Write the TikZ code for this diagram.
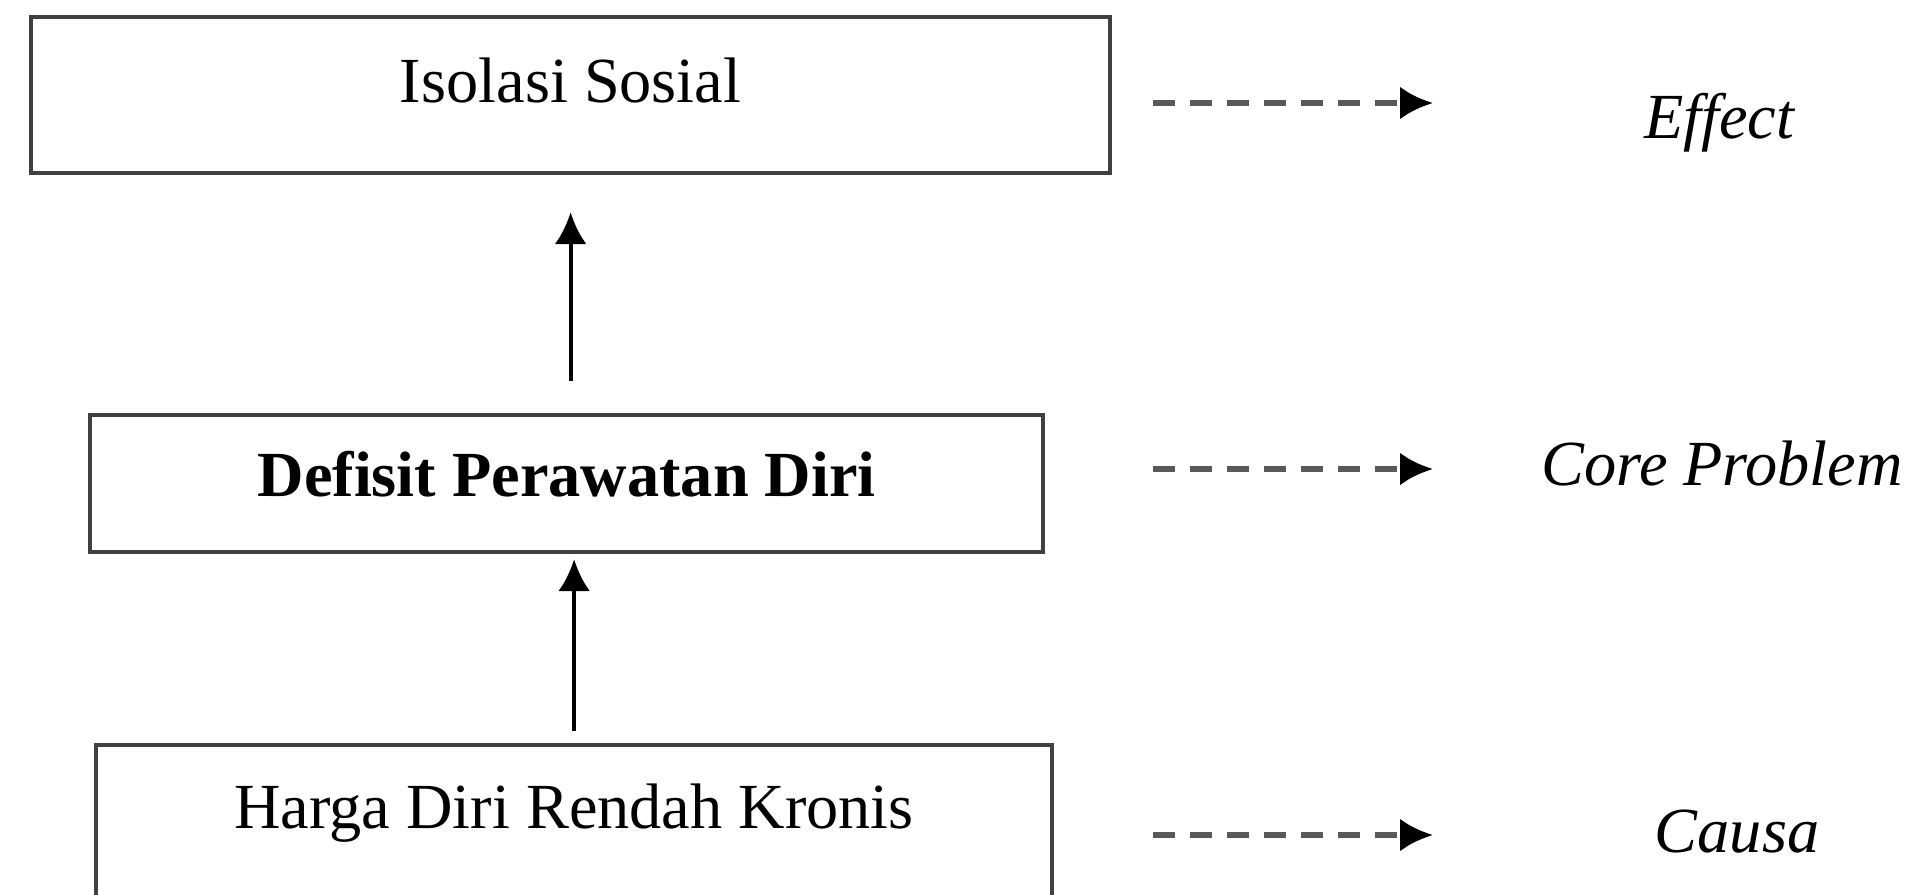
\documentclass[tikz,border=0pt]{standalone}
\usepackage{fontspec}
\setmainfont{Liberation Serif}
\usetikzlibrary{arrows.meta}
\begin{document}
\begin{tikzpicture}[->, >={Latex[length=3.2mm,width=3.2mm]}, line width=1.2pt,
		box/.style={draw=black!75, anchor=north west, inner sep=0pt, font=\fontsize{18.3}{22}\selectfont},
		lbl/.style={anchor=base, inner sep=0pt, font=\fontsize{18.3}{22}\selectfont\itshape},
		dsh/.style={draw=black!65, line width=1.7pt, dash pattern=on 2.2mm off 1.5mm, >={Latex[length=3.3mm,width=3.3mm,color=black]}}]
			\clip[use as bounding box] (0,0) rectangle (19.17,-8.94);
			\node (iso) [box, minimum width=10.79cm, text height=0.85cm, text depth=0.71cm] at (0.29,-0.15) {Isolasi Sosial};
			\node (dpd) [box, minimum width=9.53cm, text height=0.81cm, text depth=0.56cm, font=\fontsize{18.3}{22}\selectfont\bfseries] at (0.88,-4.13) {Defisit Perawatan Diri};
			\node (hdr) [box, minimum width=9.56cm, text height=0.83cm, text depth=1.2cm] at (0.94,-7.43) {Harga Diri Rendah Kronis};
			\node (eff) [lbl] at (17.19,-1.38) {Effect};
			\node (core) [lbl] at (17.22,-4.85) {Core Problem};
			\node (causa) [lbl] at (17.37,-8.52) {Causa};
			\coordinate (a0) at (11.53,-1.03);
			\coordinate (a1) at (14.33,-1.03);
			\coordinate (b0) at (11.53,-4.69);
			\coordinate (b1) at (14.33,-4.69);
			\coordinate (c0) at (11.53,-8.35);
			\coordinate (c1) at (14.33,-8.35);
			\draw [shorten <=0.32cm, shorten >=0.37cm] (iso.south |- dpd.north) -- (iso.south);
			\draw [shorten <=0.12cm, shorten >=0.05cm] (hdr.north) -- (hdr.north |- dpd.south);
			\draw [dsh] (a0) -- (a1);
			\draw [dsh] (b0) -- (b1);
			\draw [dsh] (c0) -- (c1);
		\end{tikzpicture}
\end{document}
